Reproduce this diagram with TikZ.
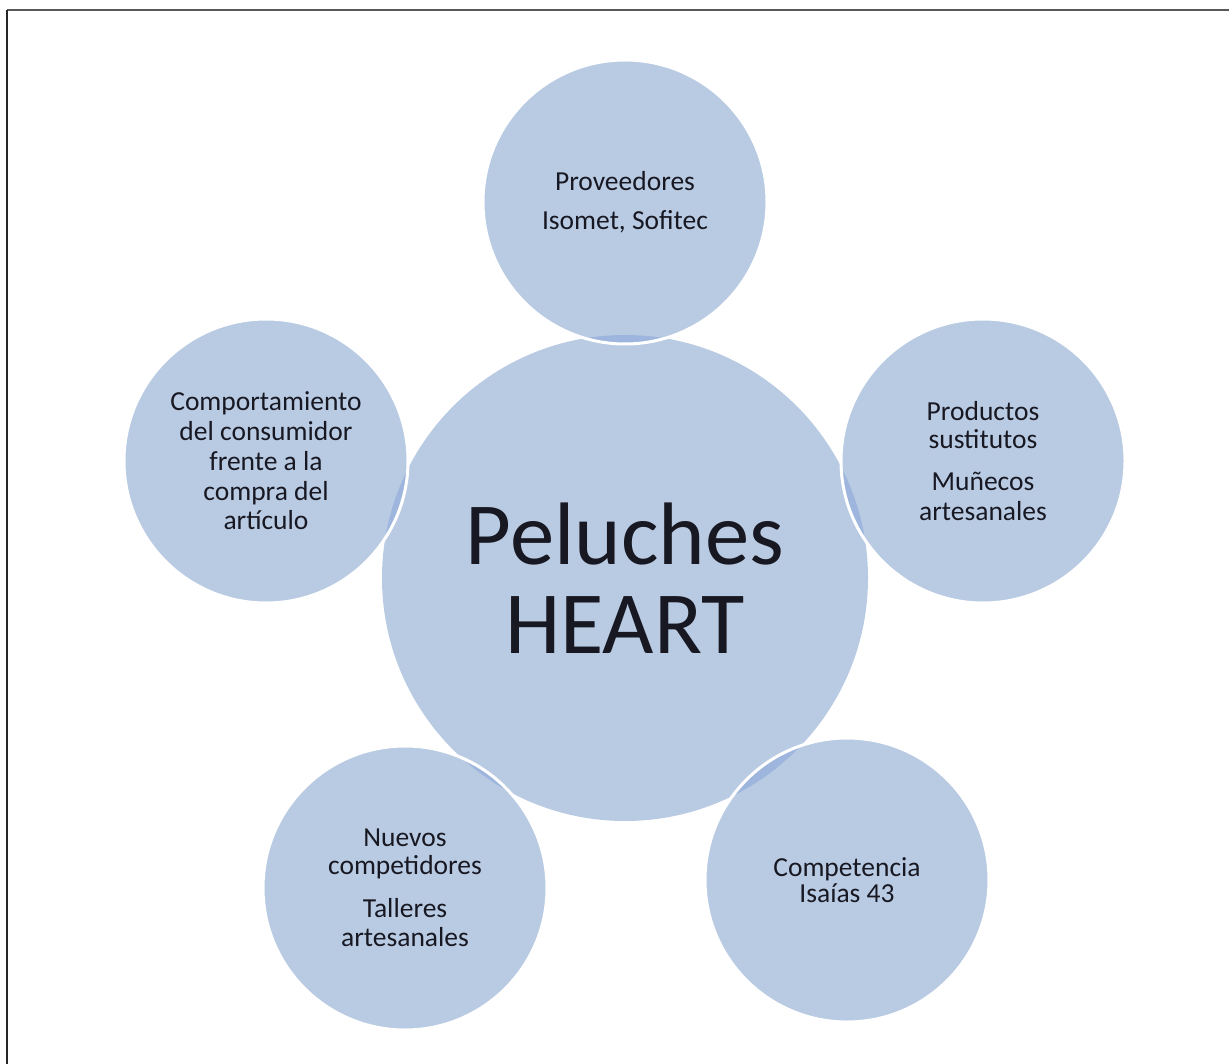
\documentclass[tikz,border=0pt]{standalone}
\usepackage{fontspec}
\setmainfont{Carlito}
\definecolor{bub}{RGB}{185,203,227}
\definecolor{lensc}{RGB}{158,182,221}
\definecolor{txt}{RGB}{24,24,34}
\tikzset{
  bubble/.style={circle, fill=bub, inner sep=0pt, align=center, text=txt,
    font=\fontsize{27.5}{29.7}\selectfont},
  ring/.style={draw=white, line width=3pt},
  lens/.style={fill=lensc}
}
\begin{document}
\begin{tikzpicture}[x=1pt,y=-1pt]
\useasboundingbox (0,0) rectangle (1229,1064);
% frame
\draw[gray!70!black, line width=2pt] (7,10) -- (1229,10);
\draw[black!85, line width=2pt] (7,10) -- (7,1064);
% center
\node[bubble, minimum size=486pt, font=\fontsize{88.7}{89}\selectfont] (c) at (625,578) {Peluches\\HEART};
% outer
\node[bubble, minimum size=284pt] (t) at (625,202) {Proveedores\\[9pt]Isomet, Sofitec};
\node[bubble, minimum size=284pt] (r) at (983,461) {Productos\\[-2pt]sustitutos\\[13pt]Muñecos\\artesanales};
\node[bubble, minimum size=284pt] (l) at (266,461) {Comportamiento\\del consumidor\\frente a la\\compra del\\artículo};
\node[bubble, minimum size=284pt] (bl) at (405,888) {Nuevos\\[-2pt]competidores\\[13pt]Talleres\\artesanales};
\node[bubble, minimum size=284pt] (br) at (847,880) {Competencia\\[-3pt]Isaías 43};
% overlap lenses
\foreach \n in {t,r,l,bl,br}{
  \begin{scope}
    \clip (c.center) circle (243);
    \fill[lens] (\n.center) circle (142);
  \end{scope}
}
% white outlines
\foreach \n in {t,r,l,bl,br}{
  \draw[ring] (\n.center) circle (142);
}
\end{tikzpicture}
\end{document}
